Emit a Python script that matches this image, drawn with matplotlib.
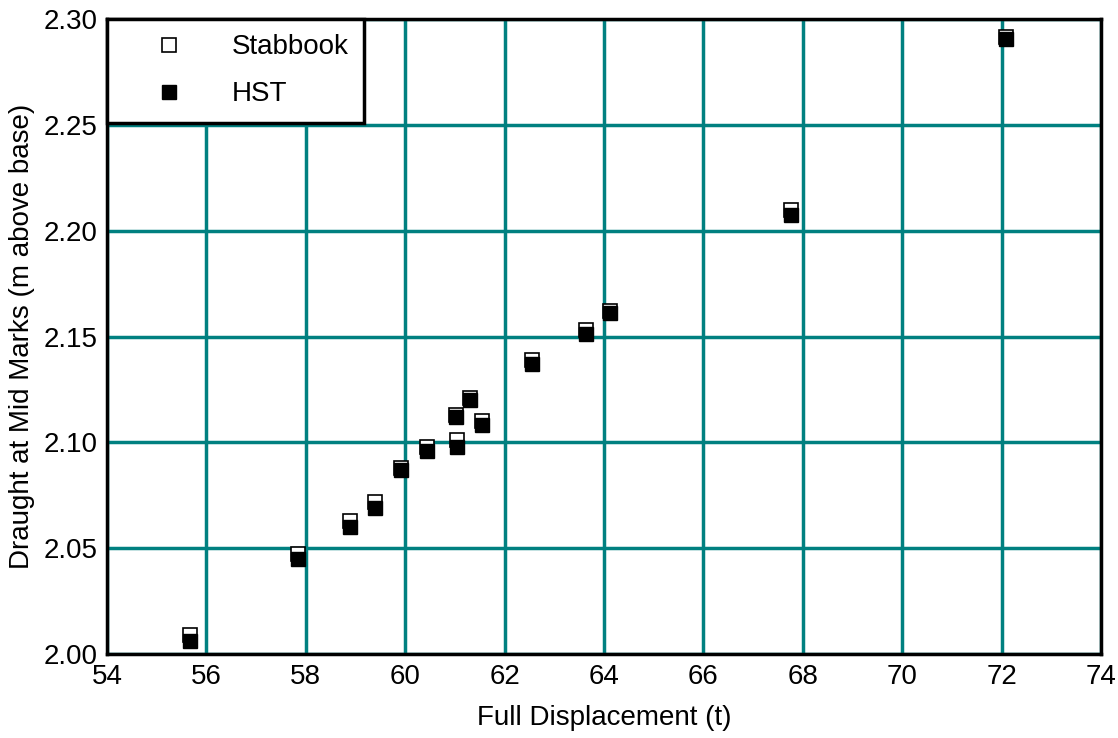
import matplotlib.pyplot as plt

plt.rcParams['font.family'] = ['Liberation Sans', 'DejaVu Sans']

# full displacement (t)
disp = [55.67, 57.84, 58.90, 59.39, 59.92, 60.44, 61.05, 61.02, 61.30, 61.55,
        62.56, 63.63, 64.12, 67.76, 72.10]
# draught at mid marks (m above base)
stabbook = [2.009, 2.047, 2.063, 2.072, 2.088, 2.098, 2.101, 2.113, 2.121, 2.110,
            2.139, 2.153, 2.162, 2.210, 2.2915]
hst = [2.006, 2.045, 2.060, 2.069, 2.087, 2.096, 2.098, 2.112, 2.120, 2.108,
       2.137, 2.151, 2.161, 2.2075, 2.2905]

xticks = list(range(54, 75, 2))
yticks = [2.00, 2.05, 2.10, 2.15, 2.20, 2.25, 2.30]

fig = plt.figure(figsize=(11.18, 7.38), dpi=100)
ax = fig.add_axes([0.0957, 0.114, 0.889, 0.86])

ax.plot(disp, stabbook, 's', ms=10, mfc='white', mec='black', mew=1.2, label='Stabbook', zorder=3)
ax.plot(disp, hst, 's', ms=10, mfc='black', mec='black', mew=1.0, label='HST', zorder=4)

ax.set_xlim(54, 74)
ax.set_ylim(2.00, 2.30)
ax.set_xticks(xticks)
ax.set_yticks(yticks)
ax.set_yticklabels(['%.2f' % v for v in yticks])
ax.grid(True, color='#008080', lw=2.5)
ax.set_axisbelow(True)
ax.tick_params(length=0, labelsize=20, pad=7)
for s in ax.spines.values():
    s.set_linewidth(2.5)
    s.set_zorder(5)

ax.set_xlabel('Full Displacement (t)', fontsize=20, labelpad=11)
ax.set_ylabel('Draught at Mid Marks (m above base)', fontsize=20, labelpad=6)

leg = ax.legend(loc='upper left', borderaxespad=0, fancybox=False, framealpha=1,
                edgecolor='black', fontsize=20, handletextpad=0.55, handlelength=3.4,
                borderpad=0.55, labelspacing=0.75)
leg.get_frame().set_linewidth(2.5)
leg.set_zorder(6)

plt.savefig('out.png')
